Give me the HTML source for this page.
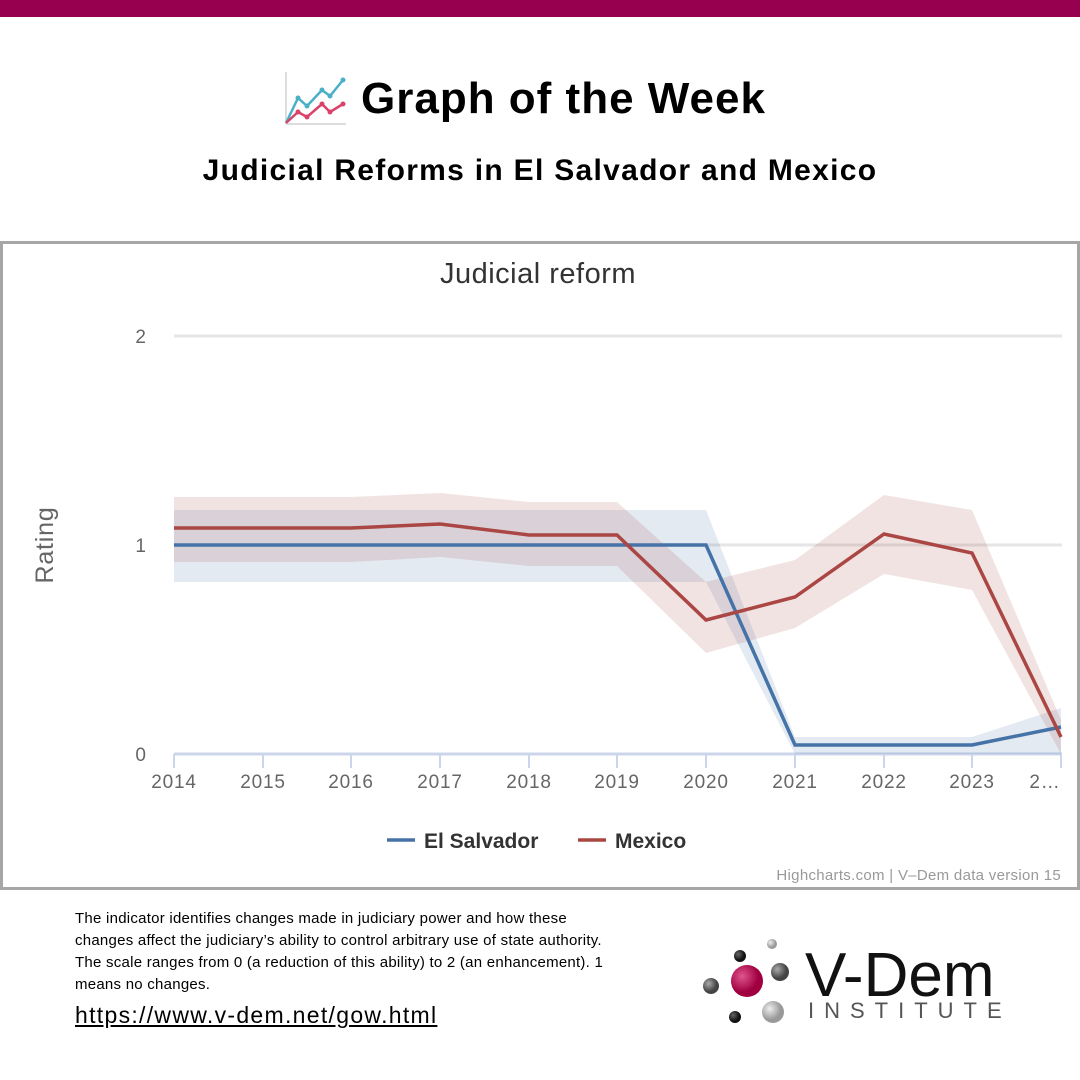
<!DOCTYPE html>
<html><head><meta charset="utf-8"><style>
body{margin:0;width:1080px;height:1080px;background:#fff;font-family:"Liberation Sans",sans-serif;position:relative;overflow:hidden}
.t{position:absolute;white-space:nowrap}
</style></head><body>
<div style="position:absolute;left:0;top:0;width:1080px;height:17px;background:#96004f"></div>
<svg class="t" style="left:280px;top:70px" width="68" height="58" viewBox="0 0 68 58">
<line x1="6" y1="2" x2="6" y2="54" stroke="#ddd" stroke-width="2"/><line x1="6" y1="54" x2="66" y2="54" stroke="#ddd" stroke-width="2"/>
<polyline points="6,53 18,28 27,36 42,20 50,26 63,10" fill="none" stroke="#4ab0c8" stroke-width="2.5"/>
<polyline points="6,53 18,42 27,47 42,34 50,42 63,34" fill="none" stroke="#d9436a" stroke-width="2.5"/>
<g fill="#4ab0c8"><circle cx="18" cy="28" r="2.5"/><circle cx="27" cy="36" r="2.5"/><circle cx="42" cy="20" r="2.5"/><circle cx="50" cy="26" r="2.5"/><circle cx="63" cy="10" r="2.5"/></g>
<g fill="#d9436a"><circle cx="18" cy="42" r="2.5"/><circle cx="27" cy="47" r="2.5"/><circle cx="42" cy="34" r="2.5"/><circle cx="50" cy="42" r="2.5"/><circle cx="63" cy="34" r="2.5"/></g>
</svg>
<div class="t" style="left:361px;top:74px;font-size:44px;font-weight:bold;color:#000;letter-spacing:1px">Graph of the Week</div>
<div class="t" style="left:0;width:1080px;text-align:center;top:154px;font-size:30px;font-weight:bold;color:#000;letter-spacing:1.3px">Judicial Reforms in El Salvador and Mexico</div>
<div style="position:absolute;left:0;top:241px;width:1074px;height:643px;border:3px solid #a6a6a6"></div>
<svg class="t" style="left:0;top:0" width="1080" height="1080">
<text x="538" y="283" text-anchor="middle" font-size="29" fill="#333" font-family="Liberation Sans" letter-spacing="0.5">Judicial reform</text>
<line x1="174" y1="336" x2="1062" y2="336" stroke="#e6e6e6" stroke-width="3"/>
<line x1="174" y1="545" x2="1062" y2="545" stroke="#e6e6e6" stroke-width="3"/>
<line x1="174" y1="754" x2="1062" y2="754" stroke="#ccd6eb" stroke-width="3"/>
<g stroke="#ccd6eb" stroke-width="2"><line x1="174" y1="754" x2="174" y2="768"/><line x1="263" y1="754" x2="263" y2="768"/><line x1="351" y1="754" x2="351" y2="768"/><line x1="440" y1="754" x2="440" y2="768"/><line x1="529" y1="754" x2="529" y2="768"/><line x1="617" y1="754" x2="617" y2="768"/><line x1="706" y1="754" x2="706" y2="768"/><line x1="795" y1="754" x2="795" y2="768"/><line x1="884" y1="754" x2="884" y2="768"/><line x1="972" y1="754" x2="972" y2="768"/><line x1="1061" y1="754" x2="1061" y2="768"/></g>
<g font-size="19" fill="#666" font-family="Liberation Sans" text-anchor="middle" letter-spacing="0.8">
<text x="141" y="343">2</text><text x="141" y="552">1</text><text x="141" y="761">0</text>
<text x="174" y="788">2014</text><text x="263" y="788">2015</text><text x="351" y="788">2016</text><text x="440" y="788">2017</text><text x="529" y="788">2018</text><text x="617" y="788">2019</text><text x="706" y="788">2020</text><text x="795" y="788">2021</text><text x="884" y="788">2022</text><text x="972" y="788">2023</text><text x="1045" y="788">2…</text>
</g>
<text transform="translate(53,545) rotate(-90)" text-anchor="middle" font-size="25" fill="#666" font-family="Liberation Sans" letter-spacing="0.8">Rating</text>
<polygon points="174,510 263,510 351,510 440,510 529,510 617,510 706,510 795,737 884,737 972,737 1061,708 1061,754 972,754 884,754 795,754 706,582 617,582 529,582 440,582 351,582 263,582 174,582" fill="#4572a7" fill-opacity="0.15"/>
<polygon points="174,497 263,497 351,497 440,493 529,502 617,502 706,582 795,560 884,495 972,510 1061,720 1061,754 972,590 884,574 795,628 706,653 617,566 529,566 440,557 351,562 263,562 174,562" fill="#aa4643" fill-opacity="0.15"/>
<polyline points="174,545 263,545 351,545 440,545 529,545 617,545 706,545 795,745 884,745 972,745 1061,727" fill="none" stroke="#4572a7" stroke-width="3.5"/>
<polyline points="174,528 263,528 351,528 440,524 529,535 617,535 706,620 795,597 884,534 972,553 1061,737" fill="none" stroke="#aa4643" stroke-width="3.5"/>
<line x1="387" y1="840" x2="415" y2="840" stroke="#4572a7" stroke-width="3.5"/>
<text x="424" y="848" font-size="21" font-weight="bold" fill="#333" font-family="Liberation Sans">El Salvador</text>
<line x1="578" y1="840" x2="606" y2="840" stroke="#aa4643" stroke-width="3.5"/>
<text x="615" y="848" font-size="21" font-weight="bold" fill="#333" font-family="Liberation Sans">Mexico</text>
<text x="1061" y="880" text-anchor="end" font-size="15" fill="#999" font-family="Liberation Sans" letter-spacing="0.3">Highcharts.com | V–Dem data version 15</text>
</svg>
<div class="t" style="left:75px;top:908px;font-size:15px;line-height:22px;color:#000;white-space:normal;width:600px;letter-spacing:0.25px">The indicator identifies changes made in judiciary power and how these<br>changes affect the judiciary’s ability to control arbitrary use of state authority.<br>The scale ranges from 0 (a reduction of this ability) to 2 (an enhancement). 1<br>means no changes.</div>
<div class="t" style="left:75px;top:1002px;font-size:23px;color:#000;text-decoration:underline;letter-spacing:1.3px">https://www.v-dem.net/gow.html</div>
<svg class="t" style="left:695px;top:935px" width="110" height="95">
<defs><radialGradient id="g1" cx="35%" cy="35%"><stop offset="0" stop-color="#e05590"/><stop offset="1" stop-color="#a0003f"/></radialGradient>
<radialGradient id="g2" cx="35%" cy="35%"><stop offset="0" stop-color="#aaa"/><stop offset="1" stop-color="#444"/></radialGradient>
<radialGradient id="g3" cx="35%" cy="35%"><stop offset="0" stop-color="#eee"/><stop offset="1" stop-color="#999"/></radialGradient>
<radialGradient id="g4" cx="35%" cy="35%"><stop offset="0" stop-color="#666"/><stop offset="1" stop-color="#111"/></radialGradient></defs>
<circle cx="52" cy="46" r="16" fill="url(#g1)"/><circle cx="16" cy="51" r="8" fill="url(#g2)"/><circle cx="45" cy="21" r="6" fill="url(#g4)"/>
<circle cx="77" cy="9" r="5" fill="url(#g3)"/><circle cx="85" cy="37" r="9" fill="url(#g2)"/><circle cx="78" cy="77" r="11" fill="url(#g3)"/><circle cx="40" cy="82" r="6" fill="url(#g4)"/>
</svg>
<div class="t" style="left:805px;top:940px;font-size:62px;color:#111;letter-spacing:0px">V-Dem</div>
<div class="t" style="left:808px;top:998px;font-size:22px;color:#555;letter-spacing:10px">INSTITUTE</div>
</body></html>
